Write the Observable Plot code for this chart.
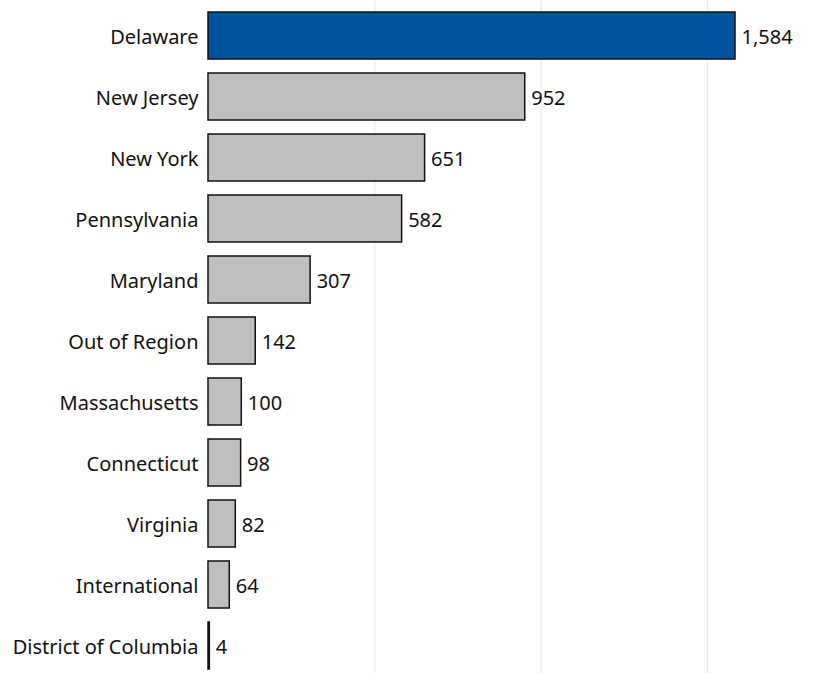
<!DOCTYPE html>
<html>
<head>
<meta charset="utf-8">
<script src="https://cdn.jsdelivr.net/npm/d3@7"></script>
<script src="https://cdn.jsdelivr.net/npm/@observablehq/plot@0.6"></script>
<style>
  html, body { margin: 0; padding: 0; background: #fff; }
  #chart svg { display: block; }
</style>
</head>
<body>
<div id="chart"></div>
<script>
const states = ["Delaware", "New Jersey", "New York", "Pennsylvania", "Maryland", "Out of Region", "Massachusetts", "Connecticut", "Virginia", "International", "District of Columbia"];
const counts = [1584, 952, 651, 582, 307, 142, 100, 98, 82, 64, 4];
const highlight = "Delaware";
const gridValues = [500, 1000, 1500];

const data = states.map((s, i) => ({state: s, count: counts[i]}));
const fmt = d3.format(",");

const chart = Plot.plot({
  width: 828,
  height: 673,
  marginLeft: 208,
  marginRight: 93,
  marginTop: 0,
  marginBottom: 0,
  style: {fontFamily: "'Noto Sans', sans-serif", fontSize: "20px", color: "#111", background: "#fff"},
  x: {domain: [0, 1584], range: [208, 735], axis: null},
  y: {domain: states, range: [8, 672], paddingInner: 0.237, paddingOuter: 0, label: null},
  marks: [
    Plot.ruleX(gridValues, {stroke: "#e8e8e8", strokeWidth: 1}),
    Plot.barX(data, {
      x: "count", y: "state",
      fill: d => d.state === highlight ? "#00539f" : "#bfbfbf",
      stroke: "#111", strokeWidth: 1.5
    }),
    Plot.text(data, {
      x: "count", y: "state", text: d => fmt(d.count),
      textAnchor: "start", dx: 6, dy: 2, fontSize: 20, fill: "#111"
    }),
    Plot.axisY({tickSize: 0, tickPadding: 10, fontSize: 20, dy: 2, label: null})
  ]
});
document.getElementById("chart").appendChild(chart);
</script>
</body>
</html>
